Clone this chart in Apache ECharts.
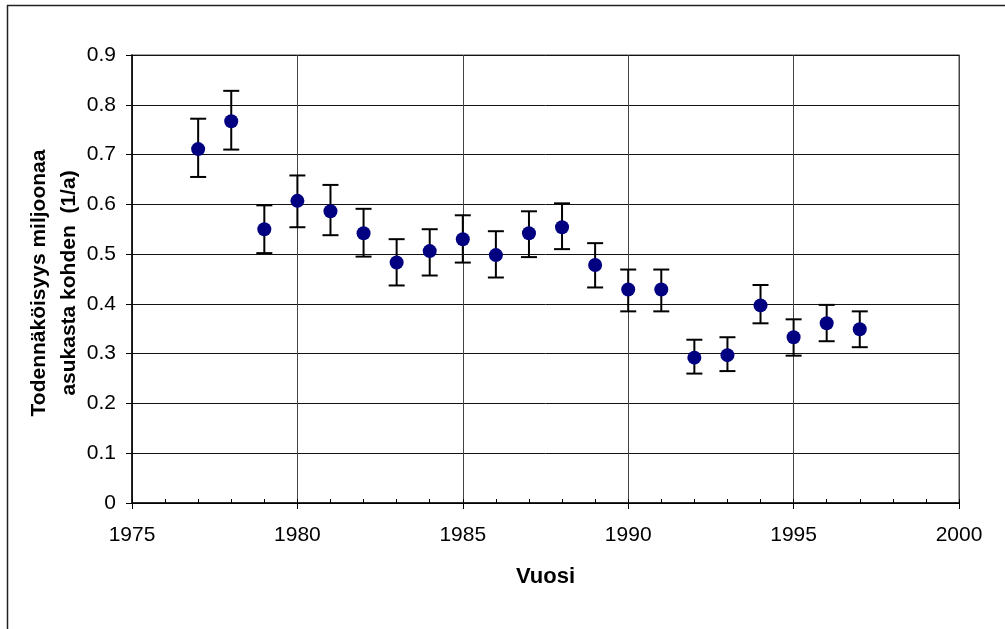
<!DOCTYPE html>
<html>
<head>
<meta charset="utf-8">
<script src="https://cdn.jsdelivr.net/npm/echarts@6/dist/echarts.min.js"></script>
<style>
  html, body { margin: 0; padding: 0; background: #fff; }
  #chart { width: 1005px; height: 629px; }
</style>
</head>
<body>
<div id="chart"></div>
<script>
// Annual probability per million inhabitants, with error bars
const years = [1977, 1978, 1979, 1980, 1981, 1982, 1983, 1984, 1985, 1986, 1987,
               1988, 1989, 1990, 1991, 1992, 1993, 1994, 1995, 1996, 1997];
const values = [0.711, 0.767, 0.550, 0.607, 0.586, 0.542, 0.483, 0.506, 0.530, 0.498, 0.542,
                0.554, 0.478, 0.429, 0.429, 0.292, 0.297, 0.397, 0.333, 0.361, 0.349];
const upper = [0.772, 0.828, 0.598, 0.658, 0.639, 0.591, 0.530, 0.550, 0.578, 0.546, 0.586,
               0.602, 0.522, 0.469, 0.469, 0.328, 0.333, 0.438, 0.369, 0.398, 0.385];
const lower = [0.655, 0.710, 0.502, 0.554, 0.538, 0.495, 0.437, 0.457, 0.483, 0.453, 0.494,
               0.510, 0.433, 0.385, 0.385, 0.260, 0.265, 0.361, 0.296, 0.325, 0.313];

const xTitle = 'Vuosi';
const yTitle = 'Todennäköisyys miljoonaa\nasukasta kohden  (1/a)';

const FONT = '"Liberation Sans", Arial, sans-serif';

const points = years.map((y, i) => [y, values[i]]);
const bars = years.map((y, i) => [y, lower[i], upper[i]]);

const chart = echarts.init(document.getElementById('chart'), null, { renderer: 'canvas' });

chart.setOption({
  animation: false,
  backgroundColor: '#fff',
  textStyle: { fontFamily: FONT },
  graphic: [{
    type: 'polyline',
    silent: true,
    shape: { points: [[7.5, 629], [7.5, 5.5], [1005, 5.5]] },
    style: { stroke: '#222', lineWidth: 1.5, fill: null }
  }],
  grid: {
    left: 132, right: 46, top: 55, bottom: 126,
    show: true, borderColor: '#888', borderWidth: 1.5, backgroundColor: 'transparent'
  },
  xAxis: [{
    type: 'value',
    min: 1975, max: 2000, interval: 5,
    name: xTitle,
    nameLocation: 'middle',
    nameGap: 63,
    nameMoveOverlap: false,
    nameTextStyle: { fontFamily: FONT, fontSize: 22, fontWeight: 'bold', color: '#000' },
    axisLine: { show: true, onZero: false, lineStyle: { color: '#000', width: 1.5 } },
    axisTick: { show: true, inside: false, length: 6, lineStyle: { color: '#000', width: 1 } },
    axisLabel: { fontFamily: FONT, fontSize: 21, color: '#000', margin: 22, formatter: v => String(v) },
    splitLine: { show: true, lineStyle: { color: '#444', width: 1 } }
  }, {
    // yearly minor ticks pointing into the plot
    type: 'value',
    position: 'bottom',
    min: 1975, max: 2000, interval: 1,
    axisLine: { show: false },
    axisTick: { show: true, inside: true, length: 4, lineStyle: { color: '#000', width: 1 } },
    axisLabel: { show: false },
    splitLine: { show: false }
  }],
  yAxis: {
    type: 'value',
    min: 0, max: 0.9, interval: 0.1,
    name: yTitle,
    nameLocation: 'middle',
    nameGap: 48,
    nameMoveOverlap: false,
    nameTextStyle: {
      fontFamily: FONT, fontSize: 21, fontWeight: 'bold', color: '#000',
      lineHeight: 30, align: 'center', padding: [0, 8, 0, 0]
    },
    axisLine: { show: true, lineStyle: { color: '#000', width: 1.5 } },
    axisTick: { show: true, inside: false, length: 6, lineStyle: { color: '#000', width: 1 } },
    axisLabel: {
      fontFamily: FONT, fontSize: 21, color: '#000', margin: 16,
      formatter: v => (Math.round(v * 10) / 10).toString()
    },
    splitLine: { show: true, lineStyle: { color: '#111', width: 1 } }
  },
  series: [{
    type: 'custom',
    name: 'error',
    xAxisIndex: 0,
    data: bars,
    renderItem: function (params, api) {
      const x = api.value(0);
      const lo = api.coord([x, api.value(1)]);
      const hi = api.coord([x, api.value(2)]);
      const half = 8;
      const style = { stroke: '#000', lineWidth: 2 };
      return {
        type: 'group',
        children: [
          { type: 'line', shape: { x1: lo[0], y1: lo[1], x2: hi[0], y2: hi[1] }, style },
          { type: 'line', shape: { x1: hi[0] - half, y1: hi[1], x2: hi[0] + half, y2: hi[1] }, style },
          { type: 'line', shape: { x1: lo[0] - half, y1: lo[1], x2: lo[0] + half, y2: lo[1] }, style }
        ]
      };
    },
    z: 2
  }, {
    type: 'scatter',
    name: 'value',
    xAxisIndex: 0,
    data: points,
    symbol: 'circle',
    symbolSize: 14,
    itemStyle: { color: '#000080', opacity: 1 },
    z: 3
  }]
});
</script>
</body>
</html>
